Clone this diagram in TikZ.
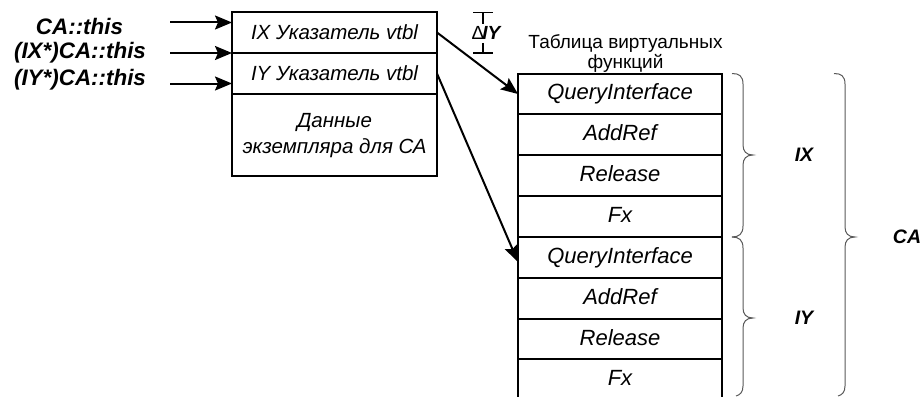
\documentclass[tikz,border=0pt]{standalone}
\usepackage{fontspec}
\setmainfont{Liberation Sans}
\usetikzlibrary{arrows.meta}
\tikzset{
  x=1pt,y=-1pt,
  cell/.style={draw=black,line width=2pt,inner sep=0pt,outer sep=0pt,font=\fontsize{22pt}{26pt}\selectfont\itshape,text width=#1,align=center,anchor=north west},
  row/.style={cell=204pt,minimum height=40.85pt,text height=16pt,text depth=4pt},
  boxtxt/.style={inner sep=0pt,font=\fontsize{20.5pt}{26pt}\selectfont\itshape,align=center},
  lbl/.style={inner sep=0pt,font=\fontsize{22.4pt}{26pt}\selectfont\bfseries\itshape},
  sidelbl/.style={inner sep=0pt,font=\fontsize{19.5pt}{24pt}\selectfont\bfseries\itshape},
  ptr/.style={line width=2pt,-{Stealth[length=17pt,width=14pt,inset=3pt]}},
  brace/.style={draw=black!65,line width=1pt,fill=none},
}
\begin{document}
\begin{tikzpicture}
\useasboundingbox (0,0) rectangle (923,396);
% left object
\node[cell=205pt,minimum height=41pt] (ix) at (232,12) {};
\node[cell=205pt,minimum height=41pt] (iy) at (232,53) {};
\node[cell=205pt,minimum height=82pt] (data) at (232,94) {};
\node[boxtxt] (ixt) at (334.5,32) {IX Указатель vtbl};
\node[boxtxt] (iyt) at (334.5,73) {IY Указатель vtbl};
\node[boxtxt] (datat) at (334.5,136) {Данные\\экземпляра для СА};
% pointer labels
\node[lbl,anchor=center] (t1) at (79.5,26) {CA::this};
\node[lbl,anchor=center] (t2) at (80,53) {(IX*)CA::this};
\node[lbl,anchor=center] (t3) at (80,80) {(IY*)CA::this};
\coordinate (s1) at (170,22.5);
\coordinate (s2) at (170,53);
\coordinate (s3) at (170,83.5);
\coordinate (e1) at (232,22.5);
\coordinate (e2) at (232,53);
\coordinate (e3) at (232,83.5);
\draw[ptr] (s1) -- (e1);
\draw[ptr] (s2) -- (e2);
\draw[ptr] (s3) -- (e3);
% delta
\coordinate (d1) at (473,12.5);
\coordinate (d2) at (493,12.5);
\coordinate (d3) at (473,53);
\coordinate (d4) at (493,53);
\coordinate (d5) at (483,12.5);
\coordinate (d6) at (483,24);
\coordinate (d7) at (483,43);
\coordinate (d8) at (483,53);
\draw[line width=1.4pt] (d1) -- (d2) (d3) -- (d4) (d5) -- (d6) (d7) -- (d8);
\node[inner sep=0pt,anchor=west,font=\fontsize{19pt}{22pt}\selectfont] (delta) at (471.5,33) {Δ\hspace{-2pt}\bfseries\itshape IY};
% table title
\node[inner sep=0pt,font=\fontsize{19pt}{20pt}\selectfont,align=center] (title) at (625.5,54) {Таблица виртуальных\\функций};
% table
\node[row] (r1) at (518,73.5) {QueryInterface};
\node[row] (r2) at (518,114.35) {AddRef};
\node[row] (r3) at (518,155.2) {Release};
\node[row] (r4) at (518,196.05) {Fx};
\node[row] (r5) at (518,236.9) {QueryInterface};
\node[row] (r6) at (518,277.75) {AddRef};
\node[row] (r7) at (518,318.6) {Release};
\node[inner sep=0pt,anchor=base,font=\fontsize{22pt}{26pt}\selectfont\itshape] (r8) at (620,385.5) {Fx};
\coordinate (bl) at (518,397);
\coordinate (br) at (722,397);
\draw[line width=2pt] (r7.south west) -- (bl) (r7.south east) -- (br);
% pointers into table
\coordinate (a1) at (ix.east);
\coordinate (a2) at (iy.east);
\coordinate (b1) at (518,94);
\coordinate (b2) at (518,262);
\draw[ptr] (a1) -- (b1);
\draw[ptr] (a2) -- (b2);
% braces
\draw[brace] (732,73.5) .. controls (739,73.5) and (743,76) .. (743,84) -- (743,145) .. controls (743,151) and (746,155) .. (753,155) .. controls (746,155) and (743,159) .. (743,165) -- (743,226) .. controls (743,234) and (739,237) .. (732,237);
\draw[brace] (732,237) .. controls (739,237) and (743,240) .. (743,248) -- (743,308) .. controls (743,314) and (746,318) .. (753,318) .. controls (746,318) and (743,322) .. (743,328) -- (743,386) .. controls (743,392) and (740,395) .. (736,396);
\draw[brace] (834,73.5) .. controls (841,73.5) and (845,76) .. (845,84) -- (845,227) .. controls (845,233) and (848,237) .. (855,237) .. controls (848,237) and (845,241) .. (845,247) -- (845,386) .. controls (845,392) and (842,395) .. (838,396);
\node[sidelbl] (lix) at (804,155) {IX};
\node[sidelbl] (liy) at (804,318) {IY};
\node[sidelbl] (lca) at (907,237) {CA};
\end{tikzpicture}
\end{document}
